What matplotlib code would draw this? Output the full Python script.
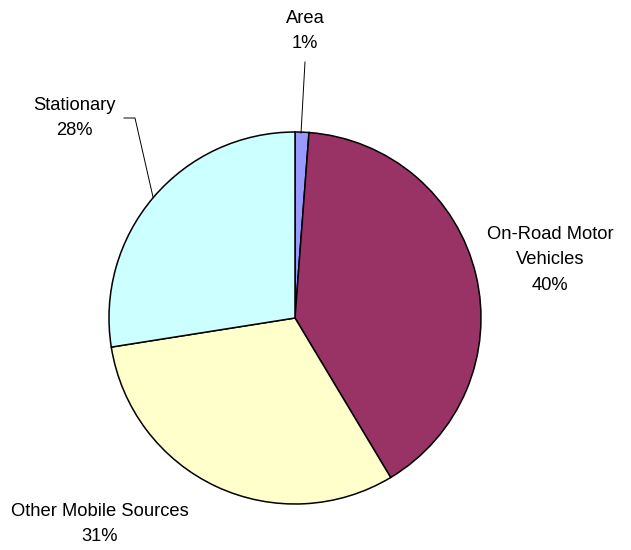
import matplotlib
matplotlib.use("Agg")
import matplotlib.pyplot as plt

categories = ["Area", "On-Road Motor\nVehicles", "Other Mobile Sources", "Stationary"]
values = [1.2, 40.2, 31.1, 27.5]
pct_labels = ["1%", "40%", "31%", "28%"]
colors = ["#9999FF", "#993366", "#FFFFCC", "#CCFFFF"]

W, H = 631, 550
fig = plt.figure(figsize=(W / 100, H / 100), dpi=100)
ax = fig.add_axes([0, 0, 1, 1])
ax.set_xlim(0, W)
ax.set_ylim(0, H)
ax.set_aspect("equal")
ax.axis("off")

cx, cy, r = 295, H - 318, 186
ax.pie(values, colors=colors, startangle=90, counterclock=False,
       center=(cx, cy), radius=r,
       wedgeprops=dict(edgecolor="black", linewidth=1.1))
ax.set_xlim(0, W)
ax.set_ylim(0, H)

font = dict(family=["Liberation Sans", "DejaVu Sans"], fontsize=13.2,
            ha="center", va="center", linespacing=1.68, color="black")

label_pos = [(305, 31), (550, 260), (100, 524), (74, 118)]
for (x, y), cat, pct in zip(label_pos, categories, pct_labels):
    ax.text(x, H - y, f"{cat}\n{pct}", **font)

# leader lines
ax.plot([305, 301], [H - 62, H - 133], color="black", lw=0.7)
ax.plot([124, 135, 153], [H - 118, H - 118, H - 197], color="black", lw=0.7)

fig.savefig("out.png", dpi=100)
